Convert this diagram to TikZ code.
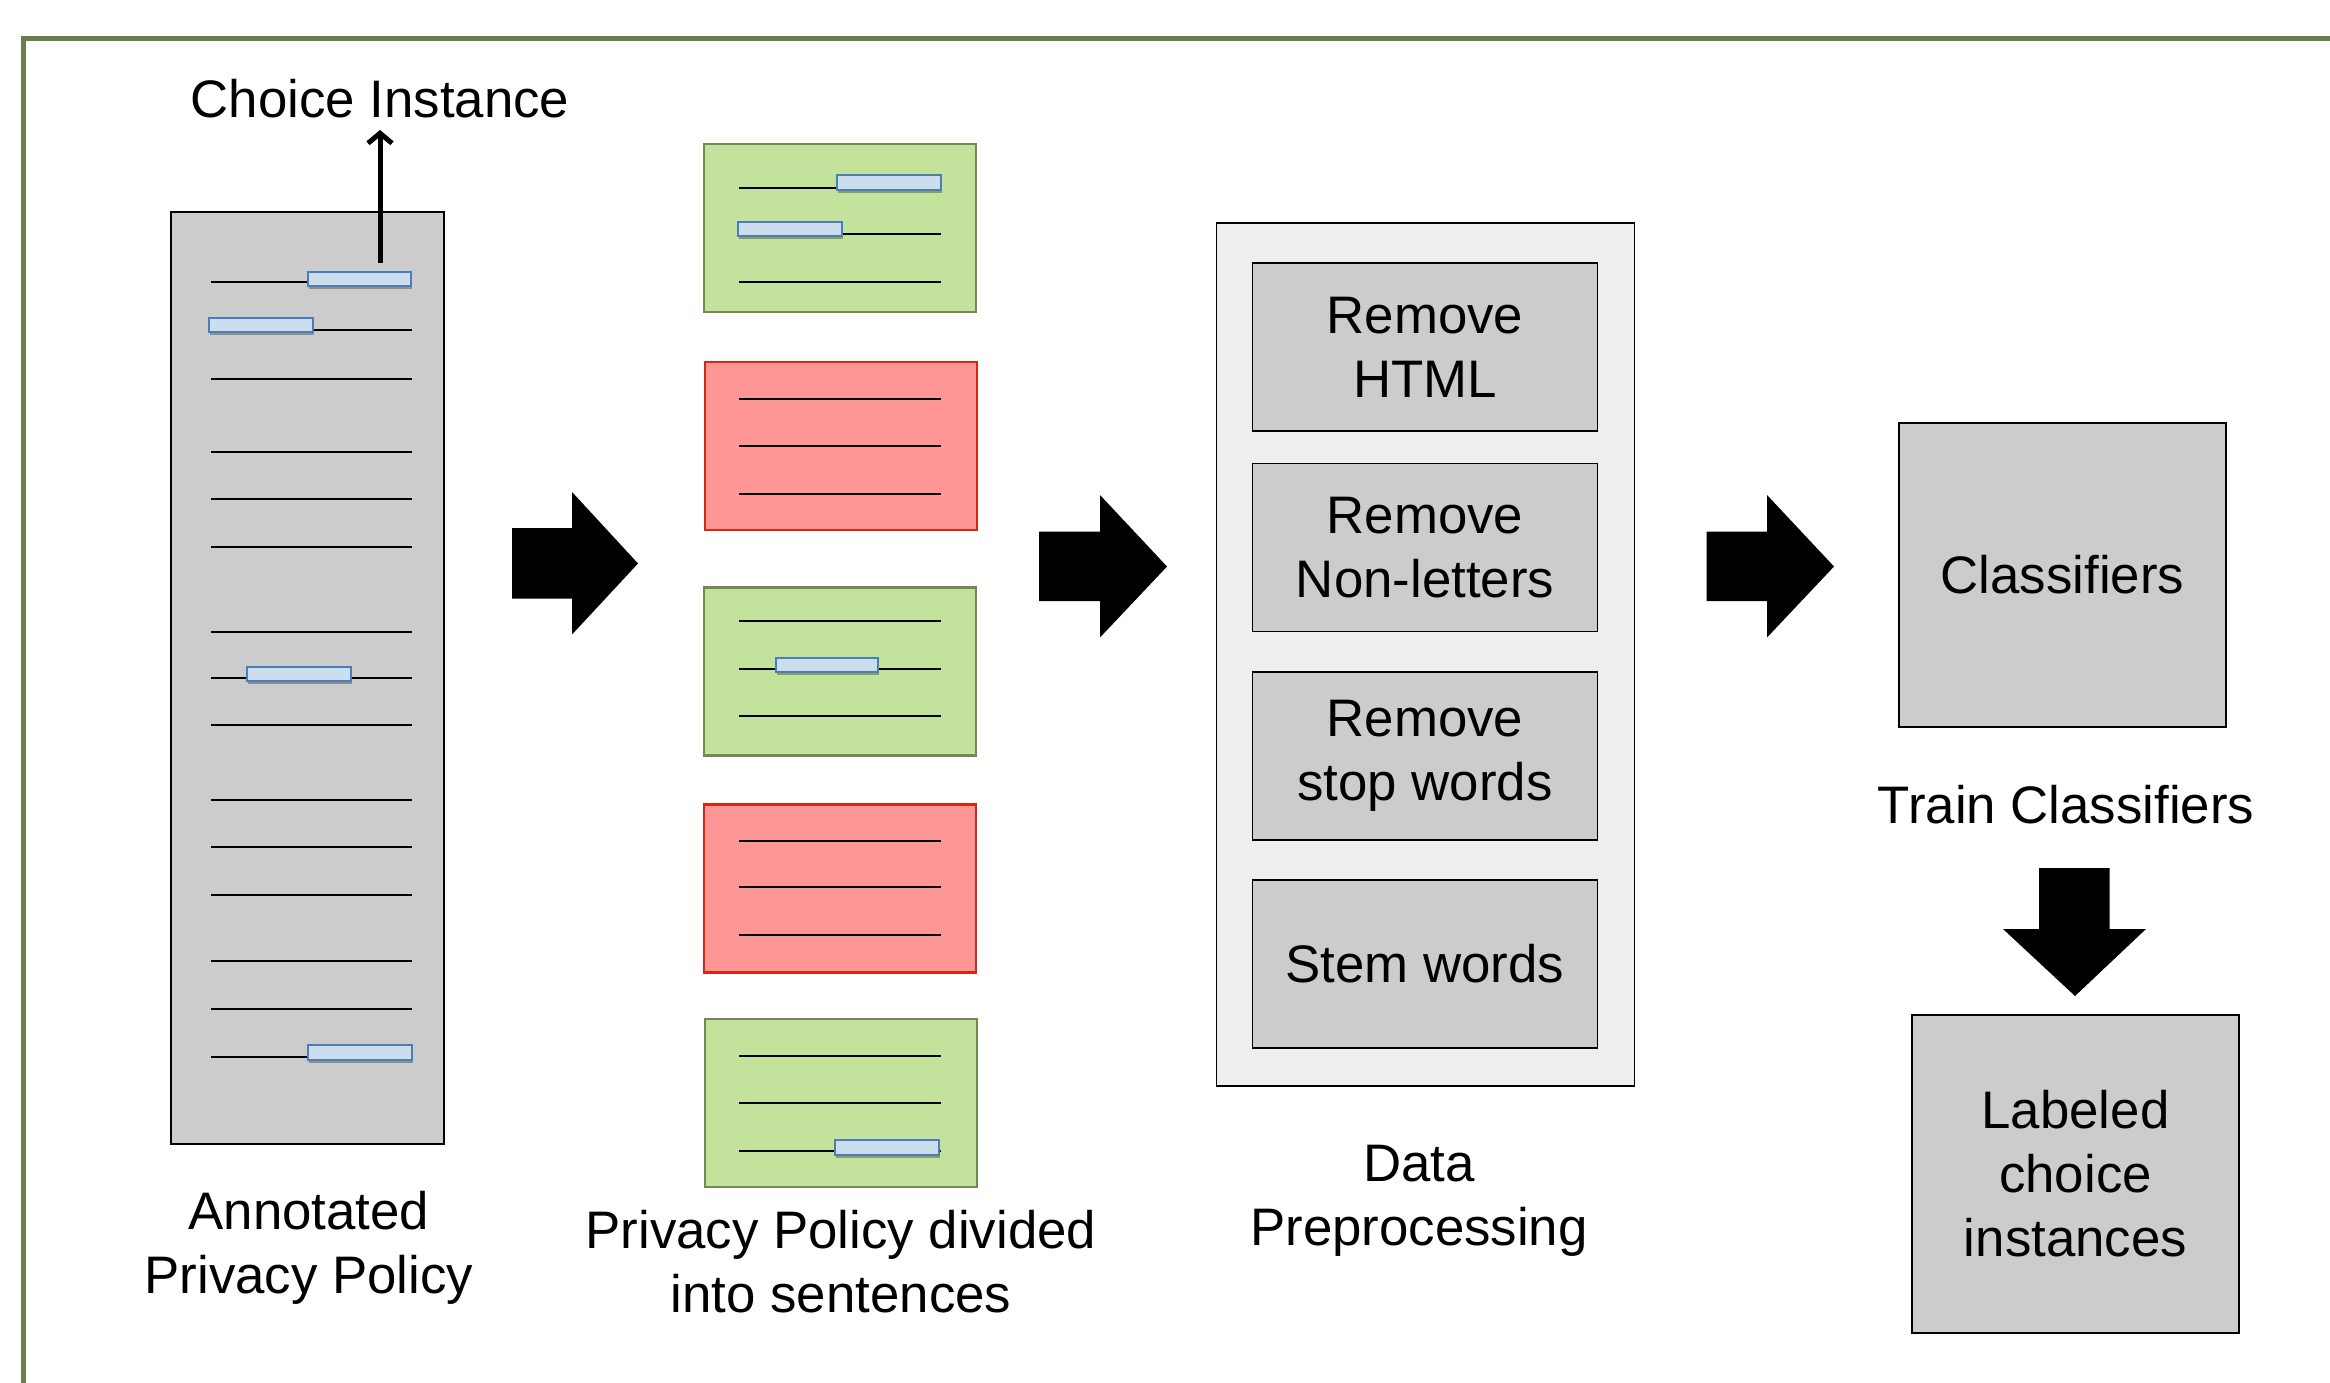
\documentclass[tikz,border=0pt]{standalone}
\usepackage{fontspec}
\setmainfont{Liberation Sans}
\usetikzlibrary{arrows.meta,shadows}
\definecolor{frameC}{RGB}{106,124,80}
\definecolor{boxgray}{RGB}{204,204,204}
\definecolor{outergray}{RGB}{238,238,238}
\definecolor{greenF}{RGB}{195,226,155}
\definecolor{greenD}{RGB}{113,138,80}
\definecolor{redF}{RGB}{255,150,150}
\definecolor{redD}{RGB}{214,40,20}
\definecolor{hlF}{RGB}{204,221,238}
\definecolor{hlD}{RGB}{74,126,187}
\newcommand\hlbox[5]{\node[hlstyle, minimum width={(#4)-(#2)}, minimum height={(#5)-(#3)}] (#1) at ({((#2)+(#4))/2},{((#3)+(#5))/2}) {};}
\begin{document}
\begin{tikzpicture}[x=1pt,y=-1pt,
  lbl/.style={font=\fontsize{52.8}{64}\selectfont, align=center, inner sep=0pt},
  docbox/.style={draw=black, line width=2.2pt, fill=boxgray, inner sep=0pt},
  greenbox/.style={draw=greenD, line width=2.4pt, fill=greenF, inner sep=0pt, minimum width=272pt, minimum height=168pt},
  redbox/.style={draw=redD, line width=2.4pt, fill=redF, inner sep=0pt, minimum width=272pt, minimum height=168pt},
  outerbox/.style={draw=black, line width=1.8pt, fill=outergray, inner sep=0pt},
  stepbox/.style={draw=black, line width=1.8pt, fill=boxgray, inner sep=0pt, minimum width=345pt, minimum height=168pt, font=\fontsize{52.8}{64}\selectfont, align=center},
  resbox/.style={draw=black, line width=1.8pt, fill=boxgray, inner sep=0pt, font=\fontsize{52.8}{64}\selectfont, align=center},
  txtline/.style={line width=2.8pt, black},
  hlstyle/.style={draw=hlD, line width=2.6pt, fill=hlF, inner sep=0pt, outer sep=0pt,
    drop shadow={shadow xshift=1pt, shadow yshift=-3pt, opacity=0.3, fill=black}},
  blockarrow/.style={fill=black, draw=none}
]
\useasboundingbox (0,0) rectangle (2330,1383);
% outer frame (extends beyond picture)
\draw[frameC, line width=5pt] (23,1420) -- (23,39) -- (2360,39);

% ---------- Annotated privacy policy ----------
\node[docbox, minimum width=273pt, minimum height=932pt] (doc) at (307.5,678) {};
\foreach \yy in {282,330,379,452,499,547,632,678,725,800,847,895,961,1009,1057}
  \draw[txtline] (211,\yy) -- (412,\yy);
\hlbox{dh1}{308}{272}{411}{286}
\hlbox{dh2}{209}{318}{313}{332}
\hlbox{dh3}{247}{667}{351}{681}
\hlbox{dh4}{308}{1045}{412}{1060}

\node[lbl, anchor=base] (ci) at (380,118) {Choice Instance};
\coordinate (ciStart) at (380,263);
\coordinate (ciEnd) at (380,130);
\draw[line width=5pt, -{Straight Barb[length=10pt,width=24pt]}] (ciStart) -- (ciEnd);

\node[lbl, anchor=base] (doclbl) at (309,1293) {Annotated\\Privacy Policy};

% ---------- Sentences ----------
\node[greenbox] (s1) at (840,228) {};
\node[redbox]   (s2) at (841,446) {};
\node[greenbox] (s3) at (840,671.5) {};
\node[redbox]   (s4) at (840,888.5) {};
\node[greenbox] (s5) at (841,1103) {};
\foreach \yy in {188,234,282,399,446,494,621,669,716,841,887,935,1056,1103,1151}
  \draw[txtline] (739,\yy) -- (941,\yy);
\hlbox{sh1}{837}{175}{941}{190}
\hlbox{sh2}{738}{222}{842}{236}
\hlbox{sh3}{776}{658}{878}{672}
\hlbox{sh4}{835}{1140}{939}{1155}

\node[lbl, anchor=base] (slbl) at (841,1312) {Privacy Policy divided\\into sentences};

% ---------- Block arrows ----------
\fill[blockarrow] (512,528) -- (572,528) -- (572,492) -- (638,563.5) -- (572,634.5) -- (572,598.5) -- (512,598.5) -- cycle;
\fill[blockarrow] (1039,531.5) -- (1100,531.5) -- (1100,495) -- (1167,566.5) -- (1100,637.5) -- (1100,601) -- (1039,601) -- cycle;
\fill[blockarrow] (1706.5,531.5) -- (1767,531.5) -- (1767,495) -- (1834,566.5) -- (1767,637.5) -- (1767,601) -- (1706.5,601) -- cycle;
\fill[blockarrow] (2039,868) -- (2109.5,868) -- (2109.5,929) -- (2146,929) -- (2075,996) -- (2003,929) -- (2039,929) -- cycle;

% ---------- Data preprocessing ----------
\node[outerbox, minimum width=418pt, minimum height=863pt] (pre) at (1425.5,654.5) {};
\node[stepbox] (p1) at (1425,347) {Remove\\HTML};
\node[stepbox] (p2) at (1425,547.5) {Remove\\Non-letters};
\node[stepbox] (p3) at (1425,756) {Remove\\stop words};
\node[stepbox] (p4) at (1425,964) {Stem words};
\node[lbl, anchor=base] (prelbl) at (1419,1245) {Data\\Preprocessing};

% ---------- Classifiers ----------
\node[resbox, minimum width=327pt, minimum height=304pt] (cls) at (2062.5,575) {Classifiers};
\node[lbl, anchor=base] (trainlbl) at (2066,823) {Train Classifiers};
\node[resbox, minimum width=327pt, minimum height=318pt] (lab) at (2075.5,1174) {Labeled\\choice\\instances};
\end{tikzpicture}
\end{document}
